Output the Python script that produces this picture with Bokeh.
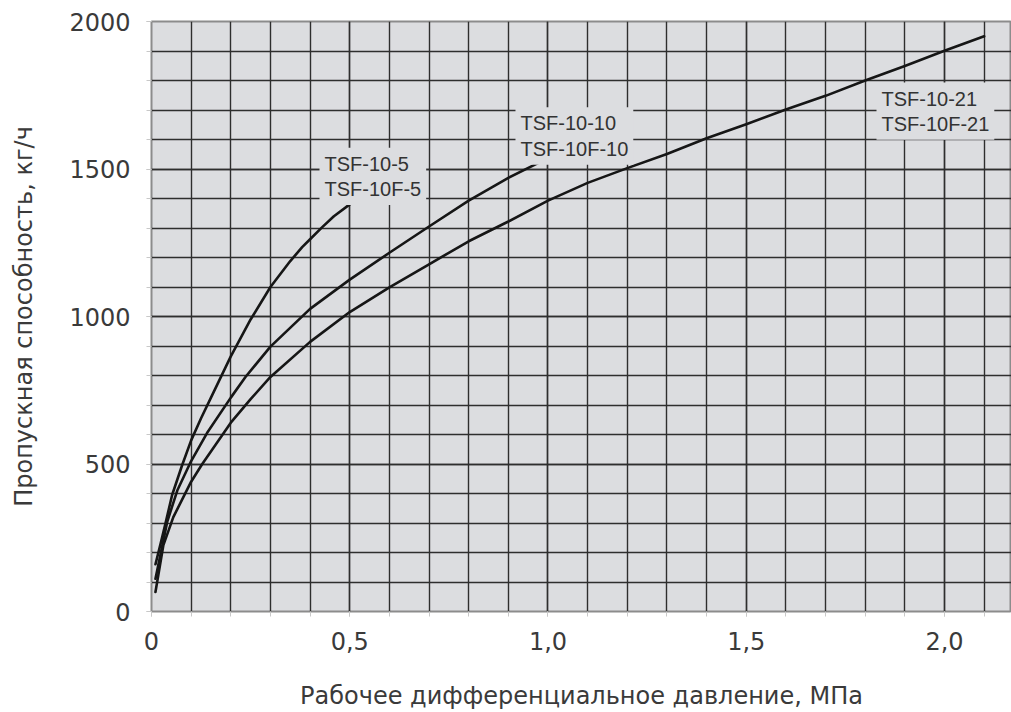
import numpy as np
from bokeh.plotting import figure
from bokeh.models import Range1d, FixedTicker, Label, CustomJSTickFormatter
from bokeh.embed import file_html
from bokeh.resources import INLINE

# ---- data ----
x_5 = [0.01, 0.023, 0.035, 0.052, 0.077, 0.1, 0.125, 0.15, 0.2, 0.25, 0.3, 0.35, 0.38, 0.4, 0.43, 0.46, 0.5]
y_5 = [160, 230, 297, 395, 495, 580, 655, 725, 865, 990, 1100, 1188, 1235, 1262, 1302, 1340, 1380]

x_10 = [0.01, 0.04, 0.065, 0.1, 0.14, 0.2, 0.237, 0.3, 0.4, 0.5, 0.6, 0.7, 0.8, 0.9, 1.0]
y_10 = [111, 306, 410, 510, 605, 725, 795, 898, 1026, 1125, 1216, 1305, 1393, 1470, 1537]

x_21 = [0.01, 0.03, 0.055, 0.1, 0.128, 0.2, 0.25, 0.3, 0.4, 0.5, 0.6, 0.7, 0.8, 0.9, 1.0, 1.1,
        1.2, 1.3, 1.4, 1.5, 1.6, 1.7, 1.8, 1.9, 2.0, 2.1]
y_21 = [66, 225, 320, 440, 500, 640, 720, 795, 914, 1015, 1099, 1177, 1255, 1322, 1393, 1453,
        1503, 1551, 1604, 1652, 1702, 1748, 1800, 1849, 1901, 1950]

series_labels = ["TSF-10-5\nTSF-10F-5", "TSF-10-10\nTSF-10F-10", "TSF-10-21\nTSF-10F-21"]
label_x = [0.4237, 0.918, 1.8285]
label_y = [1572, 1709, 1793]

x_title = "Рабочее дифференциальное давление, МПа"
y_title = "Пропускная способность, кг/ч"
x_major = [0, 0.5, 1.0, 1.5, 2.0]
y_major = [0, 500, 1000, 1500, 2000]

BG = "#dcdde0"
GRID = "#2e2e2e"
TXT = "#3a3a3a"
FONT = "DejaVu Sans"

p = figure(width=1011, height=712, output_backend="svg", toolbar_location=None,
           x_range=Range1d(0, 2.169), y_range=Range1d(0, 2000),
           min_border_left=151, min_border_right=0, min_border_top=21, min_border_bottom=94)
p.background_fill_color = BG
p.border_fill_color = "white"
p.outline_line_color = "#8c8c8c"
p.outline_line_width = 2

x_minor = list(np.round(np.arange(0, 2.21, 0.1), 2))
y_minor = list(range(0, 2001, 100))
p.xaxis.ticker = FixedTicker(ticks=x_major, minor_ticks=x_minor)
p.yaxis.ticker = FixedTicker(ticks=y_major, minor_ticks=y_minor)
p.xaxis.formatter = CustomJSTickFormatter(
    code="return tick === 0 ? '0' : tick.toFixed(1).replace('.', ',');")

for ax in (p.xaxis, p.yaxis):
    ax.axis_line_color = None
    ax.major_tick_out = 5
    ax.minor_tick_out = 5
    ax.major_tick_in = 0
    ax.minor_tick_in = 0
    ax.major_tick_line_color = "#c8c8c8"
    ax.minor_tick_line_color = "#c8c8c8"
    ax.major_label_text_font = FONT
    ax.major_label_text_font_size = "24px"
    ax.major_label_text_color = TXT
    ax.axis_label_text_font = FONT
    ax.axis_label_text_font_size = "24px"
    ax.axis_label_text_font_style = "normal"
    ax.axis_label_text_color = TXT

p.xaxis.major_label_standoff = 15
p.yaxis.major_label_standoff = 16
p.xaxis.axis_label = x_title
p.yaxis.axis_label = y_title
p.xaxis.axis_label_standoff = 29
p.yaxis.axis_label_standoff = 28

for g in (p.xgrid, p.ygrid):
    g.grid_line_color = GRID
    g.grid_line_width = 1.4
    g.minor_grid_line_color = GRID
    g.minor_grid_line_width = 1.4

for xs, ys in ((x_5, y_5), (x_10, y_10), (x_21, y_21)):
    p.line(xs, ys, line_color="#161616", line_width=2.6, line_join="round", line_cap="round")

for t, lx, ly in zip(series_labels, label_x, label_y):
    p.add_layout(Label(x=lx, y=ly, text=t, text_baseline="top", text_align="left",
                       text_font="Liberation Sans", text_font_size="20px", text_color="#333333",
                       text_line_height=1.15,
                       background_fill_color=BG, background_fill_alpha=1.0, padding=5))

open("out.html", "w").write(file_html(p, INLINE))
